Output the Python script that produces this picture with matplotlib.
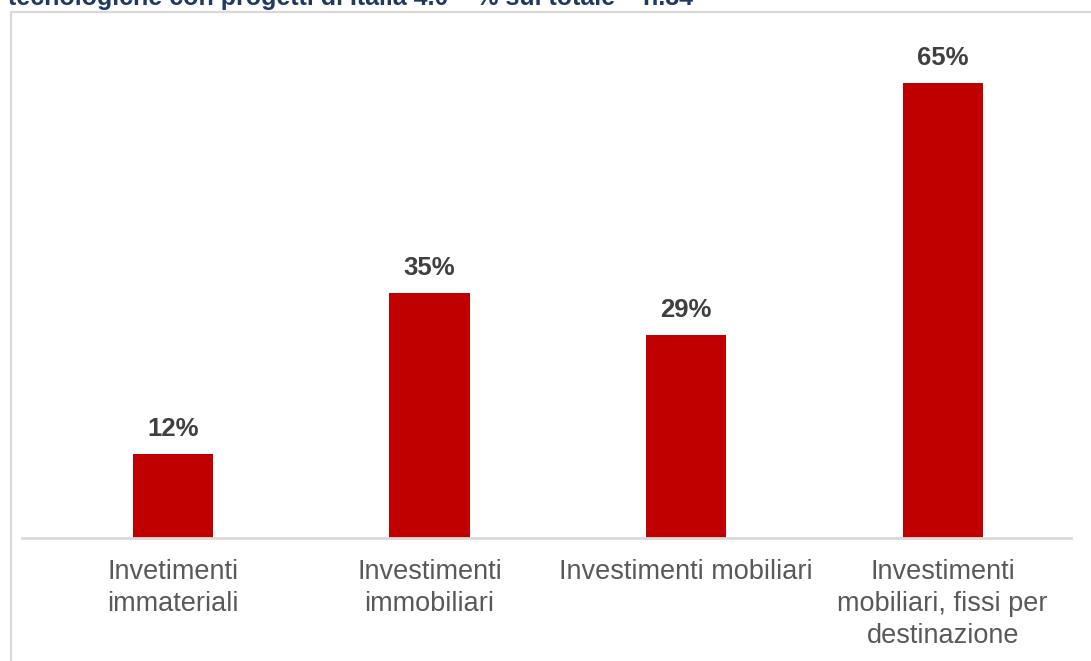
import matplotlib
matplotlib.use("Agg")
import matplotlib.pyplot as plt
from matplotlib.patches import Rectangle
from matplotlib import font_manager

categories = [
    "Invetimenti\nimmateriali",
    "Investimenti\nimmobiliari",
    "Investimenti mobiliari",
    "Investimenti\nmobiliari, fissi per\ndestinazione",
]
values = [12, 35, 29, 65]
value_labels = ["12%", "35%", "29%", "65%"]
title = "tecnologiche con progetti di Italia 4.0 \u2013 % sul totale \u2013 n.84"

W, H = 1091, 661
fig = plt.figure(figsize=(W / 100, H / 100), dpi=100)
fig.patch.set_facecolor("white")

def px(x0, y0, x1, y1):
    """Axes rectangle from pixel coordinates measured from the top-left."""
    return [x0 / W, 1 - y1 / H, (x1 - x0) / W, (y1 - y0) / H]

# outer chart frame (runs off the right and bottom edges)
frame = Rectangle((11 / W, -0.1), 1.2, 1 - 12 / H + 0.1, transform=fig.transFigure,
                  facecolor="none", edgecolor="#D9D9D9", lw=1.6, zorder=0)
fig.patches.append(frame)

names = {f.name for f in font_manager.fontManager.ttflist}
narrow = "Liberation Sans Narrow" if "Liberation Sans Narrow" in names else "Liberation Sans"
fig.text(8 / W, 1 - 4.5 / H, title, ha="left", va="baseline", fontsize=18,
         fontweight="bold", color="#1F3864", family=[narrow, "DejaVu Sans"])

baseline_px = 538
ax = fig.add_axes(px(22, 12, 1071, baseline_px))
ax.set_xlim(-0.588, 3.5)
ax.set_ylim(0, (baseline_px - 12) / 7.0)

x = list(range(len(values)))
ax.bar(x, values, width=0.312, color="#C00000", zorder=2)

for i, (v, lab) in enumerate(zip(values, value_labels)):
    ax.annotate(lab, xy=(i, v), xytext=(0, 13), textcoords="offset points",
                ha="center", va="baseline", fontsize=18.5, fontweight="bold",
                color="#404040", family="Liberation Sans")

for i, cat in enumerate(categories):
    ax.annotate(cat, xy=(i, 0), xycoords=("data", "axes fraction"),
                xytext=(0, -15), textcoords="offset points",
                ha="center", va="top", fontsize=19.5, color="#595959",
                family="Liberation Sans", linespacing=1.3)

for s in ["top", "right", "left"]:
    ax.spines[s].set_visible(False)
ax.spines["bottom"].set_color("#D9D9D9")
ax.spines["bottom"].set_linewidth(2)
ax.set_xticks([])
ax.set_yticks([])
ax.patch.set_alpha(0)

fig.savefig("out.png", dpi=100)
